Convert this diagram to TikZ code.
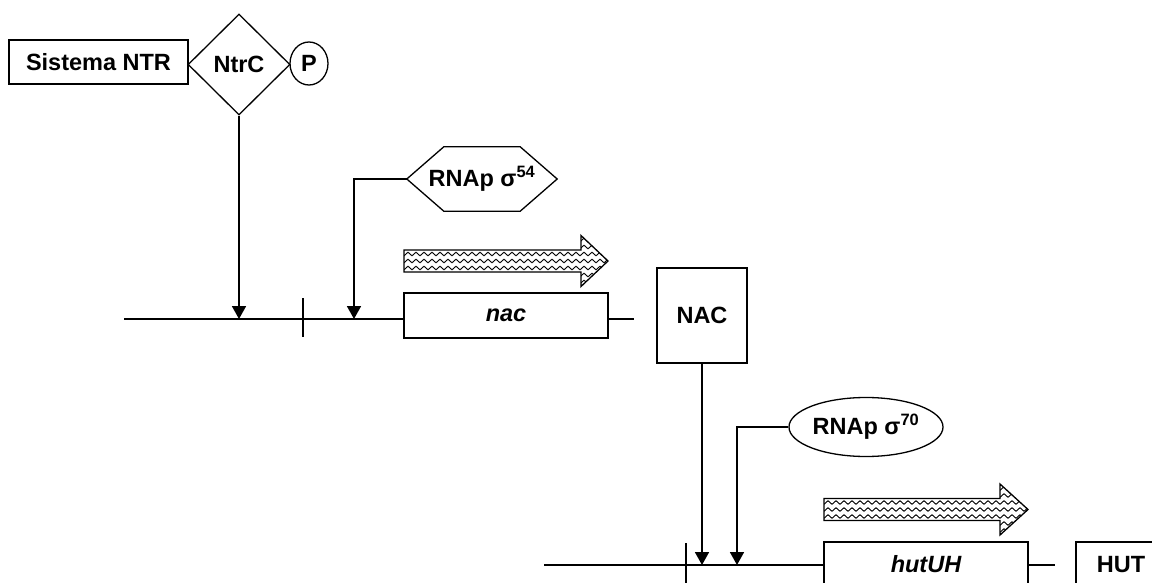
\documentclass[tikz,border=0pt]{standalone}
\usepackage{fontspec}
\setmainfont{Liberation Sans}
\usetikzlibrary{arrows.meta,shapes.geometric,decorations.pathmorphing}

\newcommand\lblfont{\fontsize{23.5}{27}\selectfont\bfseries}

% striped transcription arrow: #1 tail x, #2 head base x, #3 tip x, #4 mid y
\newcommand\wavyarrow[4]{%
  \path[fill=white] (#1,#4-11) -- (#2,#4-11) -- (#2,#4-25.5) -- (#3,#4)
     -- (#2,#4+25.5) -- (#2,#4+11) -- (#1,#4+11) -- cycle;
  \begin{scope}
    \clip (#1,#4-11) -- (#2,#4-11) -- (#2,#4-25.5) -- (#3,#4)
     -- (#2,#4+25.5) -- (#2,#4+11) -- (#1,#4+11) -- cycle;
    \foreach \r in {-28,-21,...,28}
      \draw[wave] (#1-6,#4+\r) -- (#3+6,#4+\r);
  \end{scope}
  \draw[outline] (#1,#4-11) -- (#2,#4-11) -- (#2,#4-25.5) -- (#3,#4)
     -- (#2,#4+25.5) -- (#2,#4+11) -- (#1,#4+11) -- cycle;
}

\tikzset{
  outline/.style={line width=1.3pt, line join=miter},
  dna/.style={line width=1.3pt},
  box/.style={draw, line width=1.3pt, rectangle, inner sep=0pt, font=\lblfont},
  oval/.style={draw, line width=1.3pt, ellipse, inner sep=0pt, font=\lblfont},
  conn/.style={line width=1.8pt, -{Triangle[length=13pt,width=14pt]}},
  link/.style={line width=1.4pt},
  wave/.style={line width=0.9pt, black, decorate,
    decoration={zigzag, segment length=8pt, amplitude=1.8pt}},
}

\begin{document}
\begin{tikzpicture}[x=1pt, y=-1pt]
\useasboundingbox (0,0) rectangle (1152,583);
\begin{scope}
\clip (0,0) rectangle (1152,583);

% --- upper regulator ---
\node[box, minimum width=179pt, minimum height=44pt] (ntr) at (98.5,62) {Sistema NTR};
\node[draw, line width=1.3pt, diamond, inner sep=0pt, minimum width=102pt,
      minimum height=101pt, font=\lblfont] (ntrc) at (239,64.5) {NtrC};
\node[oval, minimum width=38pt, minimum height=43pt] (phos) at (309,63.5) {P};

% --- sigma 54 polymerase (hexagon drawn on an invisible frame) ---
\node[minimum width=150pt, minimum height=64pt, inner sep=0pt, font=\lblfont]
      (rnap54) at (482,179) {RNAp σ\textsuperscript{54}};
\draw[outline] (rnap54.west) -- ([xshift=37pt]rnap54.north west)
  -- ([xshift=-37pt]rnap54.north east) -- (rnap54.east)
  -- ([xshift=-37pt]rnap54.south east) -- ([xshift=37pt]rnap54.south west) -- cycle;

% --- first operon: nac ---
\coordinate (l1a) at (124,319);
\coordinate (l1b) at (634,319);
\coordinate (a1) at (239,319);
\coordinate (a2) at (354,319);
\node[box, minimum width=204pt, minimum height=45pt, font=\lblfont\itshape]
      (gnac) at (506,315.5) {nac};
\draw[dna] (l1a) -- (gnac.west |- l1a);
\draw[dna] (gnac.east |- l1b) -- (l1b);
\draw[dna] (303,298) -- (303,337);
\wavyarrow{404}{581}{608}{261}

\draw[conn] (ntrc.south) -- (a1);
\draw[link] (rnap54.west) -| ([yshift=6pt]a2);
\draw[conn] (354,190) -- (a2);

% --- NAC protein ---
\node[box, minimum width=90pt, minimum height=95pt] (nac) at (702,315.5) {NAC};

% --- sigma 70 polymerase ---
\node[oval, minimum width=154pt, minimum height=59pt] (rnap70) at (866,427)
      {RNAp σ\textsuperscript{70}};

% --- second operon: hutUH ---
\coordinate (l2a) at (544,565);
\coordinate (l2b) at (1055,565);
\coordinate (b1) at (702,565);
\coordinate (b2) at (737,565);
\node[box, minimum width=204pt, minimum height=45pt, font=\lblfont\itshape]
      (ghut) at (926,564.5) {hutUH};
\draw[dna] (l2a) -- (ghut.west |- l2a);
\draw[dna] (ghut.east |- l2b) -- (l2b);
\draw[dna] (686,543) -- (686,590);
\wavyarrow{824}{1000}{1028}{509.5}

\draw[conn] (nac.south) -- (b1);
\draw[link] (rnap70.west) -| (737,440);
\draw[conn] (737,430) -- (b2);

\node[box, minimum width=90pt, minimum height=45pt] (hut) at (1121,564.5) {HUT};
\end{scope}
\end{tikzpicture}
\end{document}
